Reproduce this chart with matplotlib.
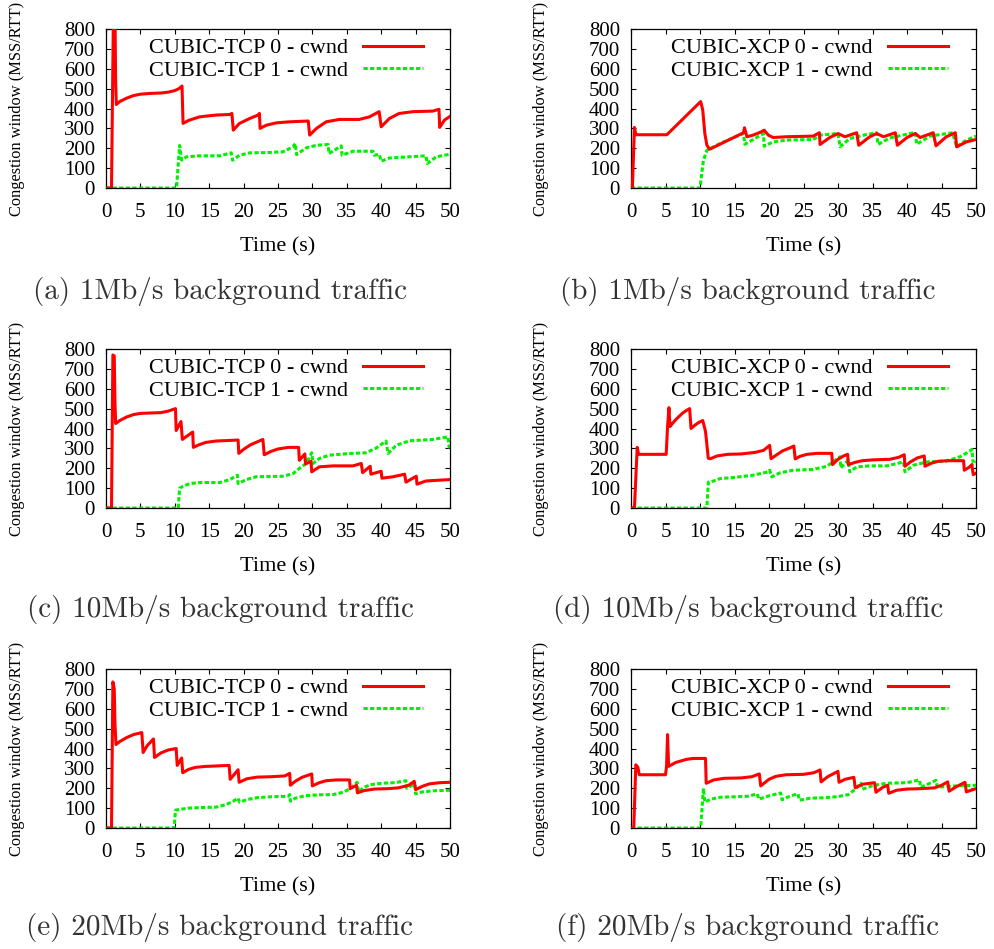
import matplotlib
matplotlib.use("Agg")
import matplotlib.pyplot as plt

# ---------------- data (time in s, cwnd in MSS/RTT) ----------------
a0_t = [0, 0.8, 1.1, 1.3, 1.4, 1.5, 2, 3, 4, 5, 6.5, 8, 9, 10, 10.6, 11.05, 11.2, 12, 13.6, 16, 18, 18.3, 18.5,
        19.4, 20.9, 22.1, 22.3, 22.4, 23.3, 24.8, 26.7, 29.4, 29.6, 30.6, 32, 33.9, 36.8, 38.3, 39.7, 40.0,
        41.2, 42.6, 44.6, 47.5, 48.4, 48.5, 49.2, 50]
a0_w = [0, 0, 950, 900, 540, 420, 435, 452, 465, 472, 476, 478, 482, 490, 500, 513, 325, 340, 358, 367, 370, 375, 291,
        325, 350, 367, 375, 300, 316, 328, 333, 337, 266, 300, 333, 345, 345, 358, 384, 308,
        350, 375, 384, 387, 396, 305, 342, 360]
a1_t = [0, 10.25, 10.7, 11.0, 11.7, 13.6, 16.5, 18.2, 18.4, 19.4, 20.9, 23.3, 25.7, 27.2, 27.5, 27.7, 29.1, 30.6,
        32.3, 32.4, 34.2, 34.3, 35.9, 38.8, 39.0, 39.7, 40.0, 41.2, 44.1, 46.5, 46.7, 48.0, 50]
a1_w = [0, 0, 214, 140, 157, 162, 162, 177, 140, 165, 177, 178, 182, 207, 224, 168, 202, 215,
        219, 173, 212, 165, 185, 185, 165, 170, 135, 151, 157, 162, 123, 157, 170]

b0_t = [0, 0.2, 0.5, 0.7, 5.2, 10.1, 10.4, 10.7, 11.0, 11.4, 16.3, 16.45, 16.8, 17.7, 18.9, 19.3, 19.9, 20.6,
        22.6, 26.4, 27.3, 27.4, 28.8, 30.0, 31.0, 32.7, 33.0, 34.6, 35.6, 36.6, 38.3, 38.6, 40.0, 41.2, 41.9,
        43.8, 44.2, 45.7, 47.0, 47.2, 48.6, 50]
b0_w = [0, 0, 305, 268, 268, 435, 392, 274, 215, 195, 278, 303, 258, 266, 283, 291, 266, 254,
        258, 261, 278, 219, 254, 274, 258, 278, 215, 258, 274, 258, 278, 215, 254, 274, 254,
        278, 212, 258, 278, 207, 232, 244]
b1_t = [0, 10.0, 10.25, 10.5, 11.0, 12.9, 16.3, 16.5, 17.7, 19.2, 19.3, 20.6, 22.6, 26.4, 27.4, 30.0, 30.3,
        31.7, 33.7, 35.6, 35.8, 37.5, 41.2, 41.4, 43.3, 46.6, 47.2, 48.6, 50]
b1_w = [0, 0, 72, 140, 190, 224, 274, 220, 244, 274, 210, 232, 241, 244, 266, 274, 207,
        249, 266, 278, 219, 252, 280, 220, 261, 278, 207, 241, 261]

c0_t = [0, 0.8, 1.0, 1.2, 1.3, 1.4, 2, 3, 4, 5, 6.5, 8, 9, 10.1, 10.2, 10.9, 11.1, 12.1, 12.6, 12.7, 13.5, 14.5,
        16, 18, 19.2, 19.3, 20, 21, 22, 22.8, 23.0, 24, 25, 26.5, 28.0, 28.1, 28.9, 29.0, 29.8, 29.9, 31.0, 33,
        35.9, 37.1, 37.3, 38.4, 38.5, 40.0, 40.1, 41.7, 43.4, 43.6, 45.1, 45.2, 46.5, 50]
c0_w = [0, 0, 770, 765, 540, 425, 440, 458, 470, 476, 478, 480, 487, 500, 390, 435, 345, 370, 382, 305, 318, 330,
        337, 340, 342, 275, 295, 318, 333, 345, 268, 285, 297, 305, 305, 240, 272, 222, 235, 182, 207, 212,
        212, 224, 178, 210, 170, 185, 150, 157, 170, 130, 160, 120, 136, 143]
c1_t = [0, 10.5, 10.7, 11.2, 12.2, 13.6, 16.5, 18, 19.1, 19.2, 20.4, 21.8, 25.7, 27.2, 28.1, 29.1, 29.9, 30.1,
        31.0, 32.5, 35.4, 37.8, 39.2, 40.7, 41.0, 42.2, 44.1, 47.5, 49.7, 49.9]
c1_w = [0, 0, 100, 109, 123, 128, 128, 143, 165, 123, 143, 157, 160, 173, 199, 224, 278, 224,
        249, 266, 274, 278, 300, 337, 274, 316, 338, 345, 358, 300]

d0_t = [0, 0.5, 0.9, 1.1, 5.1, 5.3, 5.5, 5.65, 6.0, 6.5, 7.0, 7.5, 8.0, 8.5, 8.7, 9.2, 9.8, 10.4, 10.8, 11.2, 11.5,
        12.5, 14, 16, 18, 19.2, 20.1, 20.3, 21, 22, 23, 23.6, 23.8, 24.5, 25.5, 27, 29.1, 29.2, 30.0, 30.8, 31.4,
        31.5, 32.5, 33.5, 35, 37.5, 38.8, 39.6, 39.7, 40.5, 41.5, 42.5, 42.6, 43.5, 44.5, 46, 48.2, 48.3, 49.0,
        49.4, 49.6, 50]
d0_w = [0, 0, 305, 270, 270, 410, 505, 410, 425, 445, 462, 478, 490, 500, 400, 415, 430, 440, 385, 250, 248,
        262, 270, 272, 280, 290, 315, 248, 265, 288, 302, 312, 247, 260, 270, 275, 275, 218, 245, 262, 270,
        218, 230, 238, 242, 245, 255, 268, 210, 232, 252, 262, 210, 225, 235, 238, 238, 190, 205,
        218, 168, 175]
d1_t = [0, 11.0, 11.2, 11.9, 12.9, 14.8, 17.7, 19.9, 20.1, 20.4, 21.6, 23.5, 26.4, 28.4, 29.6, 30.3, 30.4, 31.0,
        31.5, 31.7, 32.7, 34.6, 37.1, 39.5, 39.7, 40.9, 42.9, 45.7, 47.7, 49.1, 49.4, 49.6, 50]
d1_w = [0, 0, 130, 135, 148, 153, 165, 182, 190, 157, 177, 190, 194, 210, 241, 258, 202, 224,
        241, 182, 207, 212, 212, 232, 182, 215, 232, 236, 258, 286, 295, 224, 232]

e0_t = [0, 0.8, 1.0, 1.2, 1.3, 1.45, 2, 3, 4, 5.2, 5.4, 6.0, 6.9, 7.05, 8, 9, 10.2, 10.35, 11.0, 11.15, 12, 13,
        14.5, 16, 17.9, 18.05, 19.2, 19.35, 20.5, 22, 24, 26, 26.7, 26.8, 27.5, 28.5, 29.9, 30.0, 31, 32, 33.5,
        35.4, 35.5, 36.4, 36.55, 37.5, 39, 41, 42.5, 44, 44.8, 45.0, 46, 47, 48.5, 50]
e0_w = [0, 0, 735, 700, 530, 420, 435, 455, 470, 480, 380, 415, 448, 355, 378, 392, 400, 315, 352, 278, 295, 305,
        310, 312, 315, 245, 293, 230, 248, 256, 258, 262, 275, 215, 235, 255, 272, 212, 228, 238, 242,
        242, 198, 215, 177, 188, 196, 198, 202, 215, 235, 193, 210, 222, 228, 230]
e1_t = [0, 9.9, 10.1, 11, 12, 14, 16, 17.5, 18.5, 19.2, 19.4, 20.5, 22, 24, 26.5, 26.7, 26.8, 27.5, 29, 31, 33,
        34.5, 35.5, 36.5, 36.7, 37.5, 38.5, 40, 42, 43.6, 43.7, 44.5, 44.9, 45.0, 46, 48, 50]
e1_w = [0, 0, 90, 95, 100, 103, 105, 118, 135, 150, 130, 143, 153, 157, 160, 168, 135, 150, 163, 167, 168,
        180, 198, 230, 182, 205, 218, 225, 228, 238, 200, 215, 218, 172, 182, 188, 190]

f0_t = [0, 0.4, 0.7, 1.0, 1.2, 5.0, 5.15, 5.3, 5.45, 6.5, 8, 9, 10.8, 10.9, 12, 13.5, 16, 17.5, 18.6, 18.8, 20,
        21, 22.5, 25, 26.5, 27.4, 27.55, 28.5, 30.0, 30.15, 31, 32.3, 32.5, 33.5, 35.3, 35.5, 36.5, 37.2, 37.35,
        38.5, 40, 42, 44, 45, 45.9, 46.1, 47, 48.4, 48.6, 50]
f0_w = [0, 0, 318, 305, 268, 268, 310, 470, 310, 330, 345, 350, 350, 225, 242, 250, 252, 258, 272, 212, 245,
        260, 268, 270, 278, 292, 232, 258, 285, 230, 245, 255, 202, 220, 228, 180, 205, 215, 175,
        190, 196, 198, 202, 215, 232, 185, 205, 230, 182, 198]
f1_t = [0, 10.1, 10.5, 10.7, 11.5, 13, 15, 17, 18.3, 18.5, 20, 21.7, 21.9, 23, 24.2, 24.4, 26, 28, 30, 31.5,
        32.5, 33.3, 33.5, 35, 37, 40, 41.8, 42.0, 43.3, 44.2, 44.4, 46, 48, 50]
f1_w = [0, 0, 200, 130, 145, 155, 157, 160, 172, 145, 162, 176, 142, 160, 172, 140, 150, 152, 158, 168,
        195, 225, 195, 213, 225, 228, 242, 205, 225, 240, 205, 210, 213, 215]

captions = ["(a) 1Mb/s background traffic", "(b) 1Mb/s background traffic",
            "(c) 10Mb/s background traffic", "(d) 10Mb/s background traffic",
            "(e) 20Mb/s background traffic", "(f) 20Mb/s background traffic"]
protocols = ["CUBIC-TCP", "CUBIC-XCP", "CUBIC-TCP", "CUBIC-XCP", "CUBIC-TCP", "CUBIC-XCP"]
series0 = [(a0_t, a0_w), (b0_t, b0_w), (c0_t, c0_w), (d0_t, d0_w), (e0_t, e0_w), (f0_t, f0_w)]
series1 = [(a1_t, a1_w), (b1_t, b1_w), (c1_t, c1_w), (d1_t, d1_w), (e1_t, e1_w), (f1_t, f1_w)]
x_ticks = list(range(0, 51, 5))
y_ticks = list(range(0, 801, 100))

# ---------------- layout ----------------
W, H = 994, 949
fig = plt.figure(figsize=(W / 100, H / 100), dpi=100)
serif = "Liberation Serif"
tick_fs = 15
label_fs = 16

col_x = [(106, 450), (631, 976)]
row_y = [(29, 188), (349, 508), (669, 828)]
leg_right = [423, 948]
cap_y = [292, 610, 928]
cap_x = [220, 748]
ylab_x = [17, 541]

for i in range(6):
    r, c = divmod(i, 2)
    x0, x1 = col_x[c]
    y0, y1 = row_y[r]
    ax = fig.add_axes([x0 / W, 1 - y1 / H, (x1 - x0) / W, (y1 - y0) / H])
    t0, w0 = series0[i]
    t1, w1 = series1[i]
    ax.plot(t0, w0, color="#ff0000", lw=2.2, label=f"{protocols[i]} 0 - cwnd", zorder=3)
    ax.plot(t1, w1, color="#00f000", lw=2.2, ls=(0, (1.4, 0.75)), label=f"{protocols[i]} 1 - cwnd", zorder=2)
    ax.set_xlim(0, 50)
    ax.set_ylim(0, 800)
    ax.set_xticks(x_ticks)
    ax.set_yticks(y_ticks)
    ax.tick_params(direction="in", length=3.6, width=0.8, top=True, right=True, labelsize=tick_fs)
    ax.tick_params(axis="x", pad=10.5)
    ax.tick_params(axis="y", pad=8)
    for lab in ax.get_xticklabels() + ax.get_yticklabels():
        lab.set_fontfamily(serif)
    for s in ax.spines.values():
        s.set_linewidth(0.9)
    ax.set_xlabel("Time (s)", fontfamily=serif, fontsize=label_fs, labelpad=11.5)
    ax.legend(loc="upper right", bbox_to_anchor=((leg_right[c] - x0) / (x1 - x0), 0.944),
              frameon=False, markerfirst=False, handlelength=2.7, handletextpad=0.68,
              labelspacing=0.1, borderpad=0, borderaxespad=0,
              prop={"family": serif, "size": label_fs})
    fig.text(ylab_x[c] / W, 1 - (y0 + y1) / 2 / H, "Congestion window (MSS/RTT)", rotation=90,
             ha="center", va="center", fontfamily=serif, fontsize=11.8)
    fig.text(cap_x[c] / W, 1 - cap_y[r] / H, captions[i], ha="center", va="center",
             fontfamily="cmr10", fontsize=21, color="#333333")

fig.savefig("out.png", dpi=100)
